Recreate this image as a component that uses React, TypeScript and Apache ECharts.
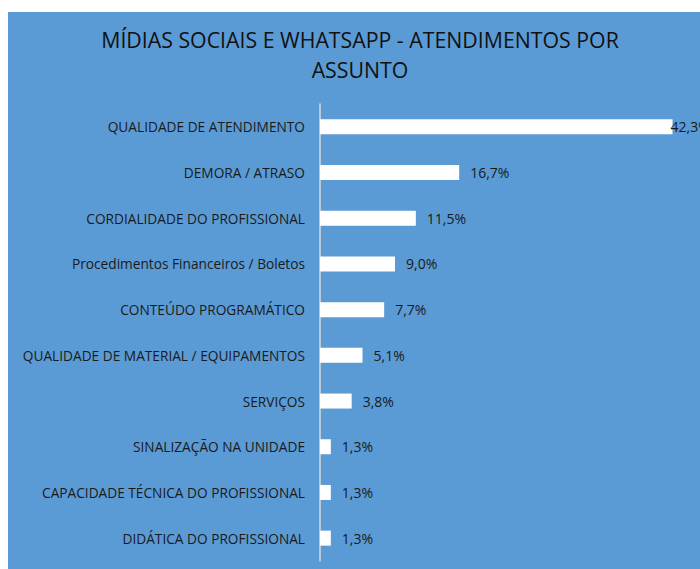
import React, { useEffect, useRef } from "react";
import * as echarts from "echarts";

const titleText = "MÍDIAS SOCIAIS E WHATSAPP - ATENDIMENTOS POR\nASSUNTO";
const categories = [
  "QUALIDADE DE ATENDIMENTO",
  "DEMORA / ATRASO",
  "CORDIALIDADE DO PROFISSIONAL",
  "Procedimentos Financeiros / Boletos",
  "CONTEÚDO PROGRAMÁTICO",
  "QUALIDADE DE MATERIAL / EQUIPAMENTOS",
  "SERVIÇOS",
  "SINALIZAÇÃO NA UNIDADE",
  "CAPACIDADE TÉCNICA DO PROFISSIONAL",
  "DIDÁTICA DO PROFISSIONAL",
];
const values = [42.3, 16.7, 11.5, 9.0, 7.7, 5.1, 3.8, 1.3, 1.3, 1.3];

const FONT = "'Open Sans', 'Noto Sans', sans-serif";

export default function App() {
  const ref = useRef<HTMLDivElement>(null);
  useEffect(() => {
    if (!ref.current) return;
    const chart = echarts.init(ref.current, null, { renderer: "svg" });
    chart.setOption({
      animation: false,
      backgroundColor: "#5B9BD5",
      textStyle: { fontFamily: FONT },
      title: {
        text: titleText,
        left: 347,
        top: 7,
        textAlign: "center",
        textStyle: {
          fontFamily: FONT,
          fontSize: 21.3,
          fontWeight: "normal",
          color: "#111111",
          lineHeight: 30,
        },
      },
      grid: { left: 312, right: 5, top: 92, bottom: 8, containLabel: false },
      xAxis: {
        type: "value",
        min: 0,
        max: 45,
        show: false,
        splitLine: { show: false },
      },
      yAxis: {
        type: "category",
        data: categories,
        inverse: true,
        axisTick: { show: false },
        axisLine: { show: true, lineStyle: { color: "#d9d9d9", width: 1.5 } },
        axisLabel: {
          margin: 15,
          fontFamily: FONT,
          fontSize: 13.7,
          color: "#1a1a1a",
        },
      },
      series: [
        {
          type: "bar",
          barWidth: 15,
          itemStyle: { color: "#ffffff" },
          data: values.map((v, i) =>
            i === 0 ? { value: v, label: { distance: -2 } } : { value: v }
          ),
          label: {
            show: true,
            position: "right",
            distance: 11,
            fontFamily: FONT,
            fontSize: 14,
            color: "#1a1a1a",
            formatter: (p: any) => p.value.toFixed(1).replace(".", ",") + "%",
          },
        },
      ],
    });
    return () => chart.dispose();
  }, []);
  return (
    <div
      ref={ref}
      style={{ position: "absolute", left: 8, top: 12, width: 692, height: 557 }}
    />
  );
}
